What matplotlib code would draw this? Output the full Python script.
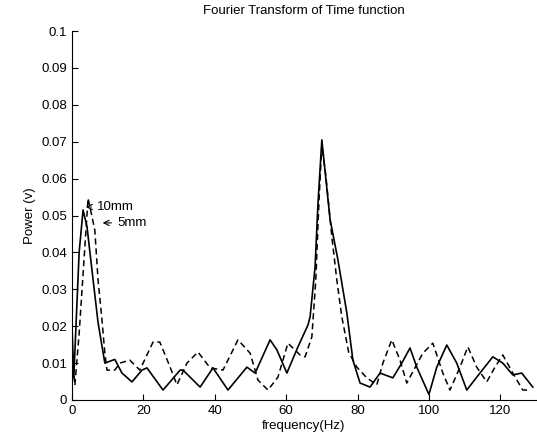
import numpy as np
import matplotlib.pyplot as plt

plt.rcParams['font.family'] = ['Liberation Sans', 'DejaVu Sans']

# solid line (10mm)
freq_10mm = [0, 0.5, 1.2, 2.0, 3.1, 4.2, 5.5, 7.3, 9.2, 12.0, 14.0, 16.8, 19.6, 21.0,
             25.5, 30.3, 31.1, 35.9, 39.5, 43.7, 49.0, 51.3, 55.5, 57.4, 60.2, 63.3,
             66.1, 66.7, 68.1, 68.9, 70.0, 70.9, 72.3, 74.5, 77.0, 78.7, 80.7, 83.5,
             86.3, 89.9, 92.4, 94.7, 96.6, 100.0, 102.2, 105.0, 107.8, 110.6, 114.3,
             117.9, 120.7, 123.5, 126.0, 129.1]
power_10mm = [0.02, 0.006, 0.022, 0.040, 0.0515, 0.047, 0.036, 0.021, 0.010, 0.011,
              0.0073, 0.0049, 0.0081, 0.0087, 0.0027, 0.0081, 0.0081, 0.0035, 0.0087,
              0.0027, 0.0089, 0.0073, 0.0163, 0.0136, 0.0073, 0.0144, 0.0203, 0.0225,
              0.036, 0.053, 0.0705, 0.062, 0.049, 0.038, 0.0236, 0.0108, 0.0046,
              0.0035, 0.0073, 0.006, 0.010, 0.0141, 0.0089, 0.0015, 0.0089, 0.0149,
              0.010, 0.0027, 0.0073, 0.0117, 0.010, 0.0068, 0.0073, 0.0035]

# dashed line (5mm)
freq_5mm = [0, 0.8, 2.0, 3.5, 4.5, 6.4, 7.3, 8.4, 9.2, 9.8, 12.0, 13.4, 16.2, 19.0,
            22.7, 24.6, 27.5, 29.4, 32.2, 35.3, 38.7, 42.3, 46.5, 49.9, 52.1, 54.9,
            57.7, 60.5, 63.9, 65.3, 67.2, 68.3, 69.2, 70.0, 71.1, 72.8, 74.2, 75.6,
            77.5, 79.8, 82.6, 85.4, 87.1, 89.6, 91.9, 93.8, 98.3, 101.1, 103.9, 105.9,
            108.7, 110.9, 113.4, 116.2, 118.5, 120.7, 123.5, 126.3, 128.3]
power_5mm = [0.012, 0.004, 0.018, 0.040, 0.0547, 0.046, 0.0325, 0.0217, 0.0127,
             0.0081, 0.0081, 0.010, 0.0108, 0.0081, 0.0157, 0.0157, 0.0089, 0.0041,
             0.010, 0.013, 0.0087, 0.0081, 0.0163, 0.0127, 0.0054, 0.0027, 0.0062,
             0.0154, 0.0122, 0.0117, 0.0171, 0.0325, 0.054, 0.069, 0.061, 0.0442,
             0.0325, 0.0225, 0.013, 0.0089, 0.006, 0.0041, 0.010, 0.0163, 0.0108,
             0.0046, 0.0127, 0.0154, 0.0073, 0.0027, 0.0089, 0.0144, 0.0089, 0.0049,
             0.0089, 0.0122, 0.0073, 0.0027, 0.0027]

fig = plt.figure(figsize=(5.37, 4.43), dpi=100)
ax = fig.add_axes([72 / 537, 43 / 443, 464 / 537, 369 / 443])

ax.plot(freq_10mm, power_10mm, color='black', linestyle='-', linewidth=1.2)
ax.plot(freq_5mm, power_5mm, color='black', linestyle='--', linewidth=1.1,
        dashes=(4, 2.5))

ax.annotate('10mm', xy=(3.1, 0.0523), xytext=(7.0, 0.0523), fontsize=9.5,
            va='center', arrowprops=dict(arrowstyle='->', color='black', lw=0.8))
ax.annotate('5mm', xy=(7.8, 0.048), xytext=(12.6, 0.048), fontsize=9.5,
            va='center', arrowprops=dict(arrowstyle='->', color='black', lw=0.8))

ax.set_xlim(0, 130)
ax.set_ylim(0, 0.1)
ax.set_xticks([0, 20, 40, 60, 80, 100, 120])
ax.set_yticks(np.arange(0, 0.101, 0.01))
ax.set_yticklabels(['0', '0.01', '0.02', '0.03', '0.04', '0.05', '0.06', '0.07',
                    '0.08', '0.09', '0.1'])
ax.tick_params(direction='in', labelsize=9.5, length=4)
ax.spines['top'].set_visible(False)
ax.spines['right'].set_visible(False)

ax.set_title('Fourier Transform of Time function', fontsize=9.5, pad=12)
ax.set_xlabel('frequency(Hz)', fontsize=9.5, labelpad=2)
ax.set_ylabel('Power (v)', fontsize=9.5, labelpad=4)

plt.savefig('out.png', dpi=100)
